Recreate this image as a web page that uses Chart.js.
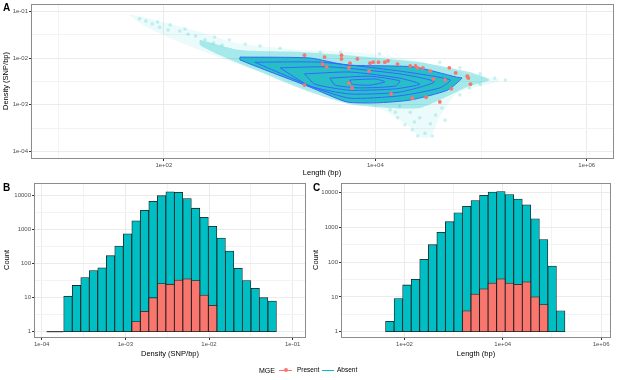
<!DOCTYPE html>
<html>
<head>
<meta charset="utf-8">
<script src="https://cdn.jsdelivr.net/npm/chart.js@4.4.1/dist/chart.umd.min.js"></script>
<style>
  body { margin: 0; background: #fff; font-family: "Liberation Sans", Arial, sans-serif; }
  #fig { position: relative; width: 617px; height: 380px; overflow: hidden; background: #fff; }
  canvas { position: absolute; }
  .lbl { position: absolute; color: #000; white-space: nowrap; line-height: 1; }
  .tag { font-weight: bold; font-size: 10px; }
  .axt { font-size: 7.5px; transform: translate(-50%, -50%); }
  .rot { transform: translate(-50%, -50%) rotate(-90deg); }
  .leg { font-size: 6.5px; transform: translateY(-50%); }
  .key { position: absolute; height: 1px; }
  .dot { position: absolute; width: 4px; height: 4px; border-radius: 50%; background: #F8766D; }
</style>
</head>
<body>
<div id="fig">
  <canvas id="chartA" width="617" height="170" style="left:0;top:0"></canvas>
  <canvas id="chartB" width="310" height="180" style="left:0;top:170px"></canvas>
  <canvas id="chartC" width="307" height="180" style="left:310px;top:170px"></canvas>

  <div class="lbl tag" style="left:3px;top:3px">A</div>
  <div class="lbl tag" style="left:3px;top:183px">B</div>
  <div class="lbl tag" style="left:313px;top:183px">C</div>

  <div class="lbl axt rot" style="left:6px;top:81px">Density (SNP/bp)</div>
  <div class="lbl axt" style="left:322px;top:173px">Length (bp)</div>
  <div class="lbl axt rot" style="left:7px;top:260px">Count</div>
  <div class="lbl axt" style="left:170px;top:354px">Density (SNP/bp)</div>
  <div class="lbl axt rot" style="left:316px;top:260px">Count</div>
  <div class="lbl axt" style="left:476px;top:354px">Length (bp)</div>

  <div class="lbl leg" style="left:259px;top:370px;font-size:7px">MGE</div>
  <div class="key" style="left:279px;top:370px;width:13px;background:#F8766D"></div>
  <div class="dot" style="left:283.5px;top:368px"></div>
  <div class="lbl leg" style="left:297px;top:370px">Present</div>
  <div class="key" style="left:322px;top:370px;width:12px;background:#00BFC4"></div>
  <div class="lbl leg" style="left:337px;top:370px">Absent</div>
</div>
<script>
// ---- panel A: log10(length), log10(density) pairs ----
const cloudOuter = [
  [1.66, -1.06], [1.87, -1.16], [2.34, -1.44], [2.65, -1.66], [2.97, -1.76], [3.29, -1.83],
  [3.88, -1.89], [4.36, -2.04], [4.92, -2.36], [5.18, -2.47], [5.08, -2.56], [4.92, -2.64],
  [4.77, -2.75], [4.61, -3.26], [4.52, -3.69], [4.42, -3.69], [4.33, -3.48], [4.07, -3.11],
  [3.76, -2.90], [3.38, -2.69], [2.97, -2.32], [2.65, -2.09], [2.34, -1.83], [2.03, -1.55],
  [1.80, -1.29], [1.66, -1.06]
];
const cloudInner = [
  [2.34, -1.61], [2.72, -1.83], [3.29, -1.87], [3.85, -1.96], [4.42, -2.09], [4.89, -2.30],
  [5.08, -2.47], [4.89, -2.60], [4.71, -2.79], [4.42, -3.07], [4.14, -3.07], [3.76, -2.99],
  [3.38, -2.73], [2.91, -2.30], [2.53, -1.94], [2.34, -1.72], [2.34, -1.61]
];
const cloudDots = [
  [1.77, -1.16], [1.89, -1.27], [1.96, -1.34], [2.04, -1.40], [2.15, -1.42], [2.23, -1.49],
  [2.30, -1.53], [2.39, -1.61], [2.47, -1.68], [2.55, -1.72], [1.83, -1.21], [1.94, -1.23],
  [2.06, -1.29], [2.20, -1.38], [2.48, -1.55], [2.62, -1.61], [2.77, -1.70], [2.91, -1.74],
  [4.14, -3.11], [4.21, -3.28], [4.28, -3.43], [4.35, -3.54], [4.40, -3.67], [4.47, -3.61],
  [4.52, -3.41], [4.57, -3.22], [4.63, -3.07], [4.42, -3.28], [4.33, -3.16], [4.23, -3.03],
  [4.66, -3.33], [4.54, -3.67], [4.37, -3.37], [4.19, -3.16], [3.10, -1.79], [3.48, -1.87],
  [3.67, -1.87], [4.04, -1.91], [4.61, -2.09], [4.80, -2.21], [4.99, -2.34], [5.13, -2.43],
  [5.23, -2.47], [4.99, -2.56], [4.89, -2.64], [4.80, -2.79]
];
const contour1 = [
  [2.72, -1.98], [3.38, -2.00], [3.73, -2.15], [4.36, -2.19], [4.77, -2.41], [4.82, -2.43],
  [4.68, -2.69], [4.33, -2.90], [4.01, -2.96], [3.73, -2.94], [3.38, -2.62], [2.72, -2.04], [2.72, -1.98]
];
const contour2 = [
  [2.86, -2.09], [3.48, -2.09], [4.23, -2.28], [4.71, -2.47], [4.61, -2.64], [4.23, -2.81],
  [3.76, -2.86], [3.43, -2.64], [2.86, -2.09]
];
const contour3 = [
  [3.10, -2.21], [3.57, -2.19], [4.23, -2.34], [4.56, -2.51], [4.23, -2.73], [3.76, -2.77],
  [3.38, -2.60], [3.10, -2.21]
];
const contour4 = [
  [3.33, -2.34], [3.76, -2.30], [4.23, -2.43], [4.42, -2.56], [4.19, -2.66], [3.76, -2.69],
  [3.43, -2.56], [3.33, -2.34]
];
const contour5 = [
  [3.57, -2.43], [3.95, -2.39], [4.23, -2.49], [4.19, -2.60], [3.85, -2.64], [3.62, -2.58], [3.57, -2.43]
];
const contour6 = [
  [3.76, -2.47], [4.00, -2.45], [4.09, -2.51], [3.95, -2.58], [3.78, -2.56], [3.76, -2.47]
];
const presentLogLength = [
  3.33, 3.52, 3.68, 3.68, 3.83, 3.76, 3.95, 3.98, 4.03, 4.09, 4.12, 4.21, 4.33, 4.38, 4.40, 4.45,
  4.52, 4.70, 4.76, 4.87, 4.88, 4.90, 4.72, 4.61, 4.48, 4.35, 4.15, 3.75, 3.78, 3.54, 3.75, 3.94,
  4.55, 4.66, 3.33, 3.50
];
const presentLogDensity = [
  -1.94, -1.98, -1.94, -2.02, -2.02, -2.11, -2.11, -2.09, -2.09, -2.09, -2.06, -2.13, -2.17, -2.17, -2.21, -2.21,
  -2.28, -2.21, -2.32, -2.39, -2.43, -2.56, -2.66, -2.94, -2.84, -2.86, -2.77, -2.54, -2.64, -2.19, -2.21, -2.28,
  -2.45, -2.47, -2.58, -2.13
];
const lengthTicksMajor = [1e2, 1e4, 1e6];
const lengthTicksMinor = [1e1, 1e3, 1e5];
const densityTicksMajor = [1e-4, 1e-3, 1e-2, 1e-1];
const densityTicksMinor = [3.162e-5, 3.162e-4, 3.162e-3, 3.162e-2];

// ---- panel B: density histogram (log10 bin centres, bar tops) ----
const densityBinLog = [
  -3.686, -3.584, -3.482, -3.381, -3.279, -3.177, -3.076, -2.974, -2.872, -2.770, -2.669, -2.567, -2.465,
  -2.364, -2.262, -2.160, -2.059, -1.957, -1.855, -1.754, -1.652, -1.550, -1.448, -1.347, -1.245
];
const densityAbsent = [11, 23, 39, 63, 76, 172, 330, 760, 1830, 3700, 6800, 10000, 13000, 12500, 8200, 4300, 2300, 1250, 570, 235, 73, 32, 19, 10, 8];
const densityPresentBinLog = [-2.872, -2.770, -2.669, -2.567, -2.465, -2.364, -2.262, -2.160, -2.059, -1.957];
const densityPresent = [2, 4, 10, 26, 25, 33, 36, 32, 12, 6];
const densitySingleSpan = [1.148e-4, 1.832e-4]; // two bins holding a count of 1
const densityHistTicksMajor = [1e-4, 1e-3, 1e-2, 1e-1];
const densityHistTicksMinor = [3.162e-4, 3.162e-3, 3.162e-2];

// ---- panel C: length histogram ----
const lengthBinLog = [
  1.701, 1.875, 2.049, 2.223, 2.397, 2.571, 2.745, 2.918, 3.092, 3.266, 3.440, 3.614, 3.788, 3.962,
  4.136, 4.310, 4.484, 4.658, 4.831, 5.005, 5.179
];
const lengthAbsent = [2, 9, 22, 32, 120, 315, 710, 1440, 2600, 4000, 5800, 8200, 10200, 10500, 8700, 6400, 4400, 1750, 440, 77, 4];
const lengthPresentBinLog = [3.266, 3.440, 3.614, 3.788, 3.962, 4.136, 4.310, 4.484, 4.658, 4.831];
const lengthPresent = [4, 12, 17, 25, 33, 25, 23, 27, 10, 6];
const lengthHistTicksMajor = [1e2, 1e4, 1e6];
const lengthHistTicksMinor = [1e3, 1e5];

const countTicksMajor = [1, 10, 100, 1000, 10000];
const countTicksMinor = [3.162, 31.62, 316.2, 3162];

const TEAL = "#00BFC4";
const RED = "#F8766D";
const BLUE = "#3366FF";
const FONT = "'Liberation Sans', Arial, sans-serif";

const toPoints = (pairs) => pairs.map(([lx, ly]) => ({ x: 10 ** lx, y: 10 ** ly }));
const toBars = (logs, counts) => logs.map((lx, i) => ({ x: 10 ** lx, y: [1, counts[i]] }));

function sci(v) {
  const e = Math.round(Math.log10(v));
  return "1e" + (e < 0 ? "-" : "+") + String(Math.abs(e)).padStart(2, "0");
}

function logAxis(min, max, major, minor, fmt, size, isX) {
  return {
    type: "logarithmic",
    min: min,
    max: max,
    bounds: "data",
    offset: false,
    afterBuildTicks: (s) => {
      s.ticks = [...major, ...minor].sort((a, b) => a - b).map((v) => ({ value: v, major: major.includes(v) }));
    },
    afterFit: (s) => {
      if (isX) s.height = size;
      else s.width = size;
    },
    ticks: {
      autoSkip: false,
      maxRotation: 0,
      padding: 1,
      color: "#4d4d4d",
      font: { size: 6, family: FONT },
      callback: (v) => (major.includes(v) ? fmt(v) : ""),
    },
    grid: {
      offset: false,
      color: (c) => (c.tick && c.tick.major ? "#ebebeb" : "#f3f3f3"),
      lineWidth: 1,
      tickLength: 3,
      tickColor: (c) => (c.tick && c.tick.major ? "#333333" : "rgba(0,0,0,0)"),
    },
    border: { display: false },
  };
}

const panelBox = {
  id: "panelBox",
  afterDraw(chart) {
    const { ctx, chartArea: a } = chart;
    ctx.save();
    ctx.strokeStyle = "#8c8c8c";
    ctx.lineWidth = 1;
    ctx.strokeRect(Math.round(a.left) - 0.5, Math.round(a.top) - 0.5, Math.round(a.width) + 1, Math.round(a.height) + 1);
    ctx.restore();
  },
};

const baseOptions = (padding, scales) => ({
  responsive: false,
  animation: false,
  events: [],
  layout: { padding: padding },
  plugins: { legend: { display: false }, tooltip: { enabled: false } },
  scales: scales,
});

function shape(pairs, order, extra) {
  return Object.assign(
    { type: "line", data: toPoints(pairs), pointRadius: 0, tension: 0.2, order: order, fill: false, borderWidth: 0 },
    extra
  );
}

// panel A
new Chart(document.getElementById("chartA"), {
  type: "scatter",
  data: {
    datasets: [
      shape(cloudOuter, 9, { fill: "shape", backgroundColor: "rgba(0,191,196,0.08)" }),
      shape(cloudInner, 8, { fill: "shape", backgroundColor: "rgba(0,191,196,0.3)" }),
      { type: "scatter", data: toPoints(cloudDots), order: 7, pointRadius: 1.8, borderWidth: 0, backgroundColor: "rgba(0,191,196,0.2)" },
      shape(contour1, 6, { fill: "shape", backgroundColor: "rgba(16,182,194,0.85)", borderColor: BLUE, borderWidth: 1 }),
      shape(contour2, 5, { borderColor: BLUE, borderWidth: 1 }),
      shape(contour3, 4, { borderColor: BLUE, borderWidth: 1 }),
      shape(contour4, 3, { borderColor: BLUE, borderWidth: 1 }),
      shape(contour5, 2, { borderColor: BLUE, borderWidth: 1 }),
      shape(contour6, 1, { borderColor: BLUE, borderWidth: 1 }),
      {
        type: "scatter",
        data: presentLogLength.map((lx, i) => ({ x: 10 ** lx, y: 10 ** presentLogDensity[i] })),
        order: 0,
        pointRadius: 1.9,
        borderWidth: 0,
        backgroundColor: RED,
      },
    ],
  },
  options: baseOptions({ left: 0, top: 5, right: 4, bottom: 0 }, {
    x: logAxis(5.66, 1.77e6, lengthTicksMajor, lengthTicksMinor, sci, 12, true),
    y: logAxis(7.23e-5, 0.1365, densityTicksMajor, densityTicksMinor, sci, 32, false),
  }),
  plugins: [panelBox],
});

function histDatasets(absentLogs, absent, presentLogs, present) {
  const bar = { grouped: false, barPercentage: 1, categoryPercentage: 1, borderSkipped: false, borderColor: "#1a1a1a", borderWidth: 0.8 };
  return [
    Object.assign({ label: "Present", data: toBars(presentLogs, present), backgroundColor: RED, order: 0 }, bar),
    Object.assign({ label: "Absent", data: toBars(absentLogs, absent), backgroundColor: TEAL, order: 1 }, bar),
  ];
}

// panel B
const datasetsB = histDatasets(densityBinLog, densityAbsent, densityPresentBinLog, densityPresent);
datasetsB.push({
  type: "line",
  data: densitySingleSpan.map((x) => ({ x: x, y: 1 })),
  borderColor: "#1a1a1a",
  borderWidth: 1,
  pointRadius: 0,
  order: 2,
});
new Chart(document.getElementById("chartB"), {
  type: "bar",
  data: { datasets: datasetsB },
  options: baseOptions({ left: 0, top: 14, right: 5, bottom: 0 }, {
    x: logAxis(8.32e-5, 0.1403, densityHistTicksMajor, densityHistTicksMinor, sci, 13, true),
    y: logAxis(0.698, 22080, countTicksMajor, countTicksMinor, (v) => String(v), 35, false),
  }),
  plugins: [panelBox],
});

// panel C
new Chart(document.getElementById("chartC"), {
  type: "bar",
  data: { datasets: histDatasets(lengthBinLog, lengthAbsent, lengthPresentBinLog, lengthPresent) },
  options: baseOptions({ left: 0, top: 14, right: 7, bottom: 0 }, {
    x: logAxis(5.35, 1.52e6, lengthHistTicksMajor, lengthHistTicksMinor, sci, 13, true),
    y: logAxis(0.705, 17380, countTicksMajor, countTicksMinor, (v) => String(v), 32, false),
  }),
  plugins: [panelBox],
});
</script>
</body>
</html>
